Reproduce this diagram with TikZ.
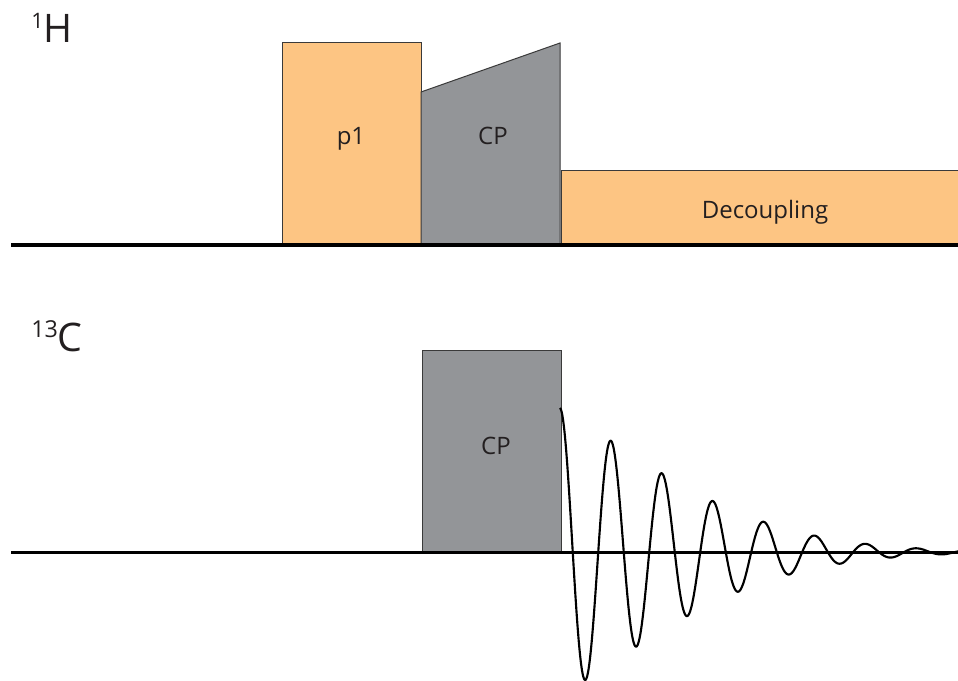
\documentclass[tikz,border=0pt]{standalone}
\usepackage{fontspec}
\setmainfont{Open Sans}
\definecolor{pulseorange}{HTML}{FDC583}
\definecolor{pulsegray}{HTML}{939598}
\definecolor{edgegray}{HTML}{3A3A3A}
\definecolor{ink}{HTML}{231F20}
\begin{document}
\begin{tikzpicture}[x=0.75pt,y=-0.75pt,
  pulse/.style={draw=edgegray, line width=0.75pt, line join=miter},
  axisline/.style={line width=2.6pt, black},
  fid/.style={line width=1.6pt, black, line join=round},
  lbl/.style={inner sep=0pt, anchor=base, text=ink, font=\fontsize{18}{21}\selectfont},
  nuc/.style={inner sep=0pt, anchor=base west, text=ink}]
\useasboundingbox (0,0) rectangle (958,681);
\clip (0,0) rectangle (958,681);
\fill[white] (0,0) rectangle (958,681);
% channel axes
\coordinate (hstart) at (11,245);
\coordinate (hend) at (962,245);
\coordinate (cstart) at (11,552.5);
\coordinate (cend) at (962,552.5);
% 1H channel
\draw[pulse, fill=pulseorange] (282,245) rectangle (421,43);
\draw[pulse, fill=pulsegray] (421,245) -- (421,92) -- (560,43) -- (560,245) -- cycle;
\draw[pulse, fill=pulseorange] (561,245) rectangle (964,171);
\draw[axisline] (hstart) -- (hend);
\node[lbl] (p1) at (351,145) {p1};
\node[lbl] (cph) at (493,145) {CP};
\node[lbl] (dec) at (765,219) {Decoupling};
\node[nuc] (hlabel) at (31,43) {\fontsize{16}{16}\selectfont\raisebox{11.2pt}{1}\fontsize{29.5}{30}\selectfont H};
% 13C channel
\draw[pulse, fill=pulsegray] (422,552.5) rectangle (561,351);
\draw[fid] plot[domain=0:400, samples=500, smooth] ({560+\x},{552-144*exp(-0.0042*\x-0.17*(\x/100)^2)*cos(7.0588*\x)});
\draw[axisline] (cstart) -- (cend);
\node[lbl] (cpc) at (496,455) {CP};
\node[nuc] (clabel) at (31,352) {\fontsize{17.5}{18}\selectfont\raisebox{10.5pt}{13}\fontsize{29.5}{30}\selectfont C};
\end{tikzpicture}
\end{document}
